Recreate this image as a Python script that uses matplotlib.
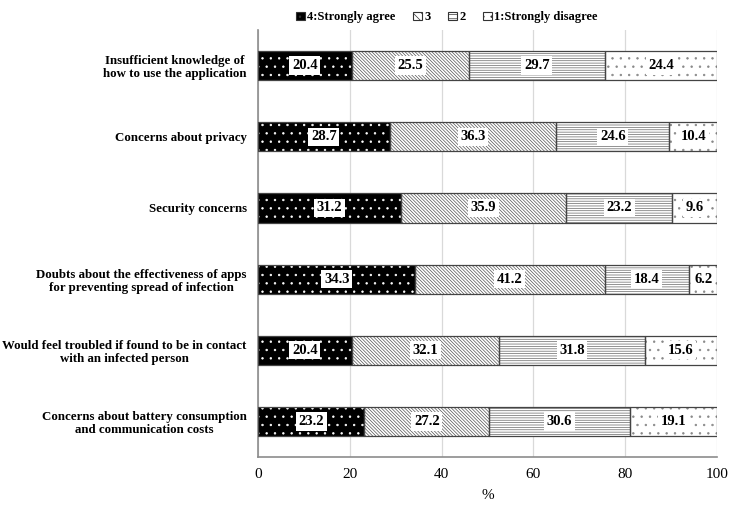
import matplotlib.pyplot as plt
import matplotlib.patches as mpatches
import numpy as np

plt.rcParams['font.family'] = ['Liberation Serif', 'DejaVu Serif']
plt.rcParams['hatch.linewidth'] = 0.5

categories = [
    "Insufficient knowledge of\nhow to use the application",
    "Concerns about privacy",
    "Security concerns",
    "Doubts about the effectiveness of apps\nfor preventing spread of infection",
    "Would feel troubled if found to be in contact\nwith an infected person",
    "Concerns about battery consumption\nand communication costs",
]
agree4 = [20.4, 28.7, 31.2, 34.3, 20.4, 23.2]
level3 = [25.5, 36.3, 35.9, 41.2, 32.1, 27.2]
level2 = [29.7, 24.6, 23.2, 18.4, 31.8, 30.6]
disagree1 = [24.4, 10.4, 9.6, 6.2, 15.6, 19.1]
series_names = ["4:Strongly agree", "3", "2", "1:Strongly disagree"]

series = [agree4, level3, level2, disagree1]
faces = ['black', 'white', 'white', 'white']
hatch_cols = ['white', '#555555', '#666666', '#888888']
hatches = ['..', '\\' * 10, '-' * 7, '..']

fig = plt.figure(figsize=(7.3, 5.05), dpi=100)
ax = fig.add_axes([0.3534, 0.095, 0.6288, 0.8456])

y = np.arange(len(categories))[::-1]
h = 0.41
left = np.zeros(len(categories))
handles = []
for vals, fc, hc, ht, name in zip(series, faces, hatch_cols, hatches, series_names):
    vals = np.array(vals)
    ax.barh(y, vals, left=left, height=h, color=fc, edgecolor=hc, hatch=ht, linewidth=0, zorder=2)
    ax.barh(y, vals, left=left, height=h, fill=False, edgecolor='#444444', linewidth=0.9, zorder=3)
    for yi, l, v in zip(y, left, vals):
        ax.text(l + v / 2, yi, f"{v:.1f}", ha='center', va='center', fontsize=10.5,
                fontweight='bold', zorder=4,
                bbox=dict(boxstyle='square,pad=0.18', fc='white', ec='none'))
    left += vals
    handles.append(mpatches.Patch(facecolor=fc, edgecolor='#333333', hatch=ht[:4], linewidth=0.8, label=name))

ax.set_xlim(0, 100)
ax.set_ylim(-0.5, len(categories) - 0.5)
ax.set_xticks(np.arange(0, 101, 20))
ax.set_yticks(y)
ax.set_yticklabels(categories, fontweight='bold', fontsize=9.3, ha='right',
                   multialignment='center', linespacing=1.15)
ax.tick_params(length=0, labelsize=11)
ax.tick_params(axis='y', labelsize=9.3, pad=8)
ax.tick_params(axis='x', pad=8)
ax.xaxis.grid(True, color='#d9d9d9', linewidth=0.9, zorder=0)
ax.set_axisbelow(True)
for s in ['top', 'right']:
    ax.spines[s].set_visible(False)
for s in ['left', 'bottom']:
    ax.spines[s].set_color('#8c8c8c')
    ax.spines[s].set_linewidth(1.2)
ax.set_xlabel('%', fontsize=11, labelpad=6)

leg = fig.legend(handles=handles, loc='upper center', bbox_to_anchor=(0.612, 1.0), ncol=4,
                 frameon=False, handlelength=0.7, handleheight=0.7, handletextpad=0.2,
                 columnspacing=1.4, prop={'weight': 'bold', 'size': 9})

fig.savefig('out.png', dpi=100)
